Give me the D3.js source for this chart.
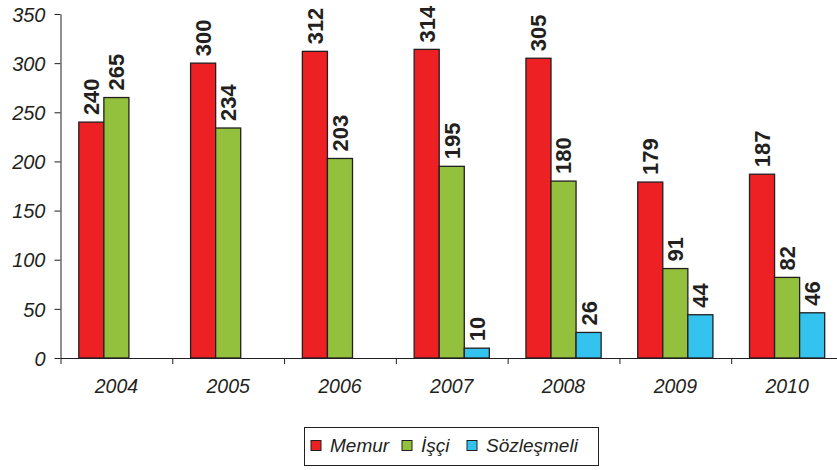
<!DOCTYPE html>
<html>
<head>
<meta charset="utf-8">
<script src="https://cdn.jsdelivr.net/npm/d3@7"></script>
<style>
  body { margin: 0; background: #fff; }
  text { font-family: "Liberation Sans", Arial, sans-serif; fill: #231f20; }
</style>
</head>
<body>
<div class="chart"></div>
<script>
const years = ["2004", "2005", "2006", "2007", "2008", "2009", "2010"];
const seriesNames = ["Memur", "İşçi", "Sözleşmeli"];
const memur = [240, 300, 312, 314, 305, 179, 187];
const isci = [265, 234, 203, 195, 180, 91, 82];
const sozlesmeli = [null, null, null, 10, 26, 44, 46];
const yTicks = [0, 50, 100, 150, 200, 250, 300, 350];
const colors = ["#ed2024", "#93c13d", "#33c3ee"];

const allSeries = [memur, isci, sozlesmeli];

const width = 837, height = 470;
const plotLeft = 60.5, plotRight = 843, plotTop = 14, plotBottom = 358;

var svg = d3.select(".chart")
  .append("svg")
  .attr("width", width)
  .attr("height", height);

var x = d3.scaleBand().domain(years).range([plotLeft, plotRight]);
var xInner = d3.scaleBand().domain(seriesNames)
  .range([18.3, x.bandwidth() - 18.3]);
var y = d3.scaleLinear().domain([0, 350]).range([plotBottom, plotTop]);

// y axis
var yAxis = d3.axisLeft(y).tickValues(yTicks).tickSize(6).tickSizeOuter(0);
var gy = svg.append("g")
  .attr("transform", `translate(${plotLeft},0)`)
  .call(yAxis);
gy.select(".domain").attr("stroke", "#231f20");
gy.selectAll(".tick line").attr("stroke", "#231f20");
gy.selectAll(".tick text")
  .attr("x", -15)
  .attr("dy", "0.36em")
  .style("font-size", "20px")
  .style("font-style", "italic")
  .style("font-family", "'Liberation Sans', Arial, sans-serif")
  .attr("fill", "#231f20");

// x axis: boundary ticks
var xb = d3.scaleLinear().domain([0, years.length]).range([plotLeft, plotRight]);
var xAxis = d3.axisBottom(xb).tickValues(d3.range(years.length + 1))
  .tickSize(6).tickSizeOuter(0).tickFormat("");
var gx = svg.append("g")
  .attr("transform", `translate(0,${plotBottom})`)
  .call(xAxis);
gx.select(".domain").attr("stroke", "#231f20");
gx.selectAll(".tick line").attr("stroke", "#231f20");

svg.append("g").selectAll("text")
  .data(years)
  .join("text")
  .attr("x", d => x(d) + x.bandwidth() / 2)
  .attr("y", 393)
  .attr("text-anchor", "middle")
  .style("font-size", "19.5px")
  .style("font-style", "italic")
  .text(d => d);

// bars
var rows = [];
allSeries.forEach((vals, si) => {
  vals.forEach((v, i) => {
    if (v !== null) rows.push({ year: years[i], name: seriesNames[si], value: v, si: si });
  });
});

svg.append("g").selectAll("rect")
  .data(rows)
  .join("rect")
  .attr("x", d => x(d.year) + xInner(d.name))
  .attr("y", d => y(d.value))
  .attr("width", xInner.bandwidth())
  .attr("height", d => y(0) - y(d.value))
  .attr("fill", d => colors[d.si])
  .attr("stroke", "#231f20")
  .attr("stroke-width", 1.3);

// value labels
svg.append("g").selectAll("text")
  .data(rows)
  .join("text")
  .attr("transform", d => `translate(${x(d.year) + xInner(d.name) + xInner.bandwidth() / 2},${y(d.value) - 7}) rotate(-90)`)
  .attr("dy", "0.36em")
  .style("font-size", "22px")
  .style("font-weight", "bold")
  .text(d => d.value);

// legend
var legend = svg.append("g");
legend.append("rect")
  .attr("x", 304.5).attr("y", 427.5)
  .attr("width", 294).attr("height", 38)
  .attr("fill", "#fff")
  .attr("stroke", "#231f20")
  .attr("stroke-width", 1);

var legendX = [311, 402, 467];
seriesNames.forEach((name, i) => {
  legend.append("rect")
    .attr("x", legendX[i]).attr("y", 440.5)
    .attr("width", 10).attr("height", 10)
    .attr("fill", colors[i])
    .attr("stroke", "#231f20")
    .attr("stroke-width", 1);
  legend.append("text")
    .attr("x", legendX[i] + 19)
    .attr("y", 452)
    .style("font-size", "19px")
    .style("font-style", "italic")
    .text(name);
});
</script>
</body>
</html>
